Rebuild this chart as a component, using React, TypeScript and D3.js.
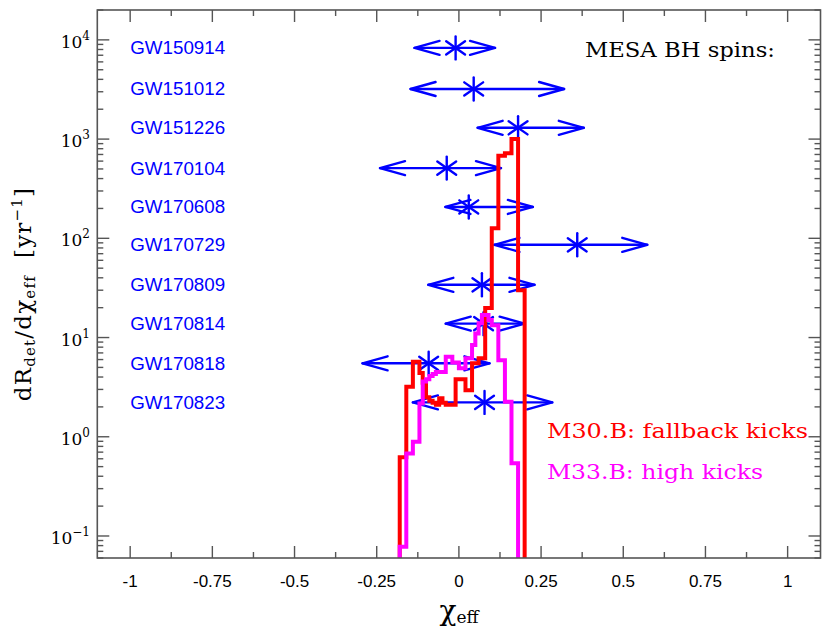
import React from "react";
import * as d3 from "d3";

const W = 831;
const H = 633;
const plot = { left: 97.3, right: 820.5, top: 10, bottom: 558 };

const xDomain: [number, number] = [-1.1, 1.1];
const yDomain: [number, number] = [0.06, 2e4];
const xMajorTicks = [-1, -0.75, -0.5, -0.25, 0, 0.25, 0.5, 0.75, 1];
const xTickLabels = ["-1", "-0.75", "-0.5", "-0.25", "0", "0.25", "0.5", "0.75", "1"];
const xMinorTicks = [-0.875, -0.625, -0.375, -0.125, 0.125, 0.375, 0.625, 0.875];
const yMajorExps = [-1, 0, 1, 2, 3, 4];

// GW events: median chi_eff and credible interval ends
const events = ["GW150914", "GW151012", "GW151226", "GW170104", "GW170608", "GW170729", "GW170809", "GW170814", "GW170818", "GW170823"];
const chiMedian = [-0.01, 0.045, 0.18, -0.037, 0.03, 0.36, 0.07, 0.075, -0.092, 0.078];
const chiLow = [-0.135, -0.147, 0.057, -0.24, -0.041, 0.108, -0.093, -0.04, -0.293, -0.14];
const chiHigh = [0.11, 0.32, 0.38, 0.128, 0.225, 0.573, 0.23, 0.2, 0.093, 0.284];
const rowLevel = [8300, 3200, 1300, 510, 207, 86, 34, 13.8, 5.5, 2.22];
const labelX = -1.0;

// histograms (bin width 0.01 starting at -0.18)
const binStart = -0.18;
const binWidth = 0.01;
const redRate = [0.62, 0.62, 3.2, 3.2, 5.7, 5.7, 4.4, 3.5, 2.5, 2.3, 2.2, 2.1, 2.45, 2.2, 2.1, 2.1, 2.1, 3.8, 3.8, 3.8, 2.95, 2.95, 5.5, 5.5, 6.2, 6.2, 19.9, 19.9, 126, 126, 680, 680, 720, 720, 1000, 1000, 30, 30];
const magentaRate = [0.078, 0.078, 0.68, 0.68, 0.89, 0.89, 2.17, 3.6, 3.8, 4.1, 4.3, 4.5, 4.5, 4.5, 6.4, 6.4, 5.6, 5.6, 4.9, 4.9, 6.2, 6.2, 8.4, 11.0, 13.9, 16.9, 16.9, 15, 13.3, 13.3, 5.9, 5.9, 2.25, 2.25, 0.54, 0.54];

const BLUE = "#0000ff";
const RED = "#ff0000";
const MAGENTA = "#ff00ff";
const AXIS = "#555";

export default function App() {
  const x = d3.scaleLinear().domain(xDomain).range([plot.left, plot.right]);
  const y = d3.scaleLog().domain(yDomain).range([plot.bottom, plot.top]);

  const stepPath = (vals: number[]) => {
    const pts: [number, number][] = [];
    const bottomVal = yDomain[0] * 0.5;
    pts.push([binStart, bottomVal]);
    vals.forEach((v, i) => {
      const a = binStart + i * binWidth;
      pts.push([a, v]);
      pts.push([a + binWidth, v]);
    });
    pts.push([binStart + vals.length * binWidth, bottomVal]);
    return d3.line<[number, number]>().x((d) => x(d[0])).y((d) => y(d[1]))(pts) || "";
  };

  const yMinor: number[] = [];
  for (let e = -2; e <= 4; e++) {
    for (let m = 2; m <= 9; m++) {
      const v = m * Math.pow(10, e);
      if (v >= yDomain[0] && v <= yDomain[1]) yMinor.push(v);
    }
  }

  const majLen = 12;
  const minLen = 6;
  const serif = "'DejaVu Serif', 'Liberation Serif', serif";
  const sans = "'Liberation Sans', Arial, sans-serif";

  const starR = 11.5;
  const headL = 25;
  const headW = 7;

  return (
    <svg width={W} height={H} style={{ position: "absolute", left: 0, top: 0, background: "#fff" }}>
      <defs>
        <clipPath id="plotclip">
          <rect x={plot.left} y={plot.top} width={plot.right - plot.left} height={plot.bottom - plot.top} />
        </clipPath>
      </defs>
      <rect x={0} y={0} width={W} height={H} fill="#fff" />

      {/* GW event markers */}
      <g stroke={BLUE} strokeWidth={2.4} fill="none" strokeLinecap="round" strokeLinejoin="round">
        {events.map((ev, i) => {
          const yy = y(rowLevel[i]);
          const xl = x(chiLow[i]);
          const xh = x(chiHigh[i]);
          const xm = x(chiMedian[i]);
          const ang = (35 * Math.PI) / 180;
          const dx = starR * Math.cos(ang);
          const dy = starR * Math.sin(ang);
          return (
            <g key={ev}>
              <line x1={xl} y1={yy} x2={xh} y2={yy} />
              <path d={`M${xl + headL},${yy - headW}L${xl},${yy}L${xl + headL},${yy + headW}`} />
              <path d={`M${xh - headL},${yy - headW}L${xh},${yy}L${xh - headL},${yy + headW}`} />
              <line x1={xm} y1={yy - starR} x2={xm} y2={yy + starR} />
              <line x1={xm - dx} y1={yy - dy} x2={xm + dx} y2={yy + dy} />
              <line x1={xm - dx} y1={yy + dy} x2={xm + dx} y2={yy - dy} />
            </g>
          );
        })}
      </g>
      {events.map((ev, i) => (
        <text key={ev} x={x(labelX)} y={y(rowLevel[i])} dy="0.36em" fill={BLUE} fontFamily={sans} fontSize={18} textLength={95} lengthAdjust="spacingAndGlyphs">
          {ev}
        </text>
      ))}

      {/* histograms */}
      <g clipPath="url(#plotclip)" fill="none" strokeLinejoin="miter">
        <path d={stepPath(redRate)} stroke={RED} strokeWidth={4} />
        <path d={stepPath(magentaRate)} stroke={MAGENTA} strokeWidth={4} />
      </g>

      {/* frame */}
      <rect x={plot.left} y={plot.top} width={plot.right - plot.left} height={plot.bottom - plot.top} fill="none" stroke={AXIS} strokeWidth={1.6} />
      <g stroke={AXIS} strokeWidth={1.4}>
        {xMajorTicks.map((t) => (
          <g key={"xm" + t}>
            <line x1={x(t)} x2={x(t)} y1={plot.bottom} y2={plot.bottom - majLen} />
            <line x1={x(t)} x2={x(t)} y1={plot.top} y2={plot.top + majLen} />
          </g>
        ))}
        {xMinorTicks.map((t) => (
          <g key={"xn" + t}>
            <line x1={x(t)} x2={x(t)} y1={plot.bottom} y2={plot.bottom - minLen} />
            <line x1={x(t)} x2={x(t)} y1={plot.top} y2={plot.top + minLen} />
          </g>
        ))}
        {yMajorExps.map((e) => {
          const yy = y(Math.pow(10, e));
          return (
            <g key={"ym" + e}>
              <line x1={plot.left} x2={plot.left + majLen} y1={yy} y2={yy} />
              <line x1={plot.right} x2={plot.right - majLen} y1={yy} y2={yy} />
            </g>
          );
        })}
        {yMinor.map((v) => {
          const yy = y(v);
          return (
            <g key={"yn" + v}>
              <line x1={plot.left} x2={plot.left + minLen} y1={yy} y2={yy} />
              <line x1={plot.right} x2={plot.right - minLen} y1={yy} y2={yy} />
            </g>
          );
        })}
      </g>

      {/* x tick labels */}
      {xMajorTicks.map((t, i) => (
        <text key={"xl" + t} x={x(t)} y={plot.bottom + 29} textAnchor="middle" fontFamily={sans} fontSize={17} fill="#000">
          {xTickLabels[i]}
        </text>
      ))}
      {/* y tick labels */}
      {yMajorExps.map((e) => {
        const yy = y(Math.pow(10, e));
        return (
          <text key={"yl" + e} x={90} y={yy + 8} textAnchor="end" fontFamily={serif} fontSize={17} fill="#000">
            10
            <tspan fontSize={12} dy={-8}>{e < 0 ? "\u2212" + Math.abs(e) : String(e)}</tspan>
          </text>
        );
      })}

      {/* axis titles */}
      <text x={459} y={620} textAnchor="middle" fontFamily={serif} fill="#000">
        <tspan fontSize={28}>χ</tspan>
        <tspan fontSize={17} dy={3}>eff</tspan>
      </text>
      <text transform={`translate(31,${(plot.top + plot.bottom) / 2 + 10}) rotate(-90)`} textAnchor="middle" fontFamily={serif} fontSize={23} letterSpacing={1.2} fill="#000">
        dR<tspan fontSize={15} dy={4}>det</tspan>
        <tspan dy={-4}>/dχ</tspan>
        <tspan fontSize={15} dy={4}>eff</tspan>
        <tspan dy={-4}>{"\u00a0\u00a0[yr"}</tspan>
        <tspan fontSize={15} dy={-9}>−1</tspan>
        <tspan dy={9}>]</tspan>
      </text>

      {/* annotations */}
      <text x={585} y={57} fontFamily={serif} fontSize={20} fill="#000" textLength={190} lengthAdjust="spacingAndGlyphs">
        MESA BH spins:
      </text>
      <text x={547} y={438} fontFamily={serif} fontSize={20} fill={RED} textLength={261} lengthAdjust="spacingAndGlyphs">
        M30.B: fallback kicks
      </text>
      <text x={547} y={479} fontFamily={serif} fontSize={20} fill={MAGENTA} textLength={216} lengthAdjust="spacingAndGlyphs">
        M33.B: high kicks
      </text>
    </svg>
  );
}
